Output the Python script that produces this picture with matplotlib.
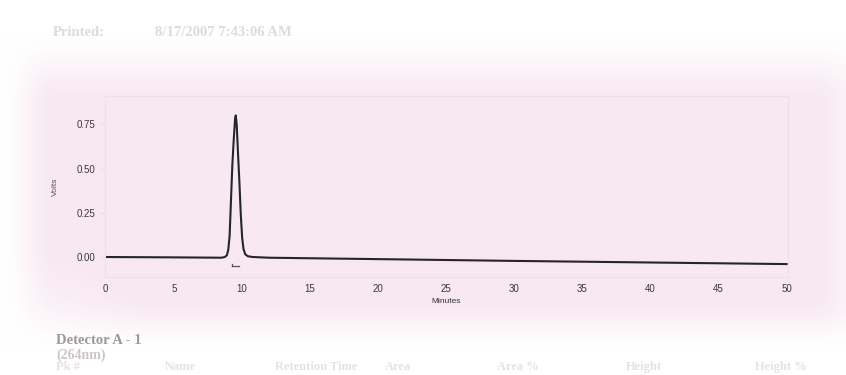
import numpy as np
import matplotlib
matplotlib.use("Agg")
import matplotlib.pyplot as plt

# Detector A - 1 (264 nm) trace
minutes = [0.0, 5.0, 8.5, 8.75, 8.9, 9.0, 9.1, 9.2, 9.3, 9.4, 9.5, 9.55,
           9.62, 9.72, 9.82, 9.92, 10.02, 10.12, 10.25, 10.45, 10.8,
           12.0, 20.0, 30.0, 40.0, 50.0]
volts = [0.0, -0.002, -0.004, 0.0, 0.01, 0.04, 0.12, 0.32, 0.52, 0.66, 0.78, 0.80,
         0.75, 0.58, 0.42, 0.24, 0.11, 0.045, 0.015, 0.004, 0.0,
         -0.004, -0.012, -0.022, -0.031, -0.040]
peak_time = 9.55

x_ticks = [0, 5, 10, 15, 20, 25, 30, 35, 40, 45, 50]
y_ticks = [0.00, 0.25, 0.50, 0.75]
y_tick_labels = ["0.00", "0.25", "0.50", "0.75"]

W, H = 846, 375
fig = plt.figure(figsize=(W / 100, H / 100), dpi=100)


def ramp(v, a, b):
    t = np.clip((v - a) / (b - a), 0, 1)
    return t * t * (3 - 2 * t)


# paper background: pink sheet fading to white at the margins
bg = fig.add_axes([0, 0, 1, 1], zorder=-10)
bg.set_axis_off()
yy, xx = np.mgrid[0:H, 0:W].astype(float)
w = ramp(yy, 30, 105) * (1 - ramp(yy, 295, 352))
w *= ramp(xx, 0, 55) * (1 - 0.35 * ramp(xx, 815, 846))
# whiter lower-left corner
corner = np.sqrt(((xx - 0) / 150) ** 2 + ((yy - 330) / 80) ** 2)
w *= np.clip(0.35 + 0.65 * corner, 0, 1)
pink = np.array([248, 232, 241]) / 255.0
img = np.ones((H, W, 3)) * (1 - w[..., None]) + pink * w[..., None]
bg.imshow(img, extent=[0, W, H, 0], aspect="auto")
bg.set_xlim(0, W)
bg.set_ylim(H, 0)

font = "Liberation Sans"
serif = "Liberation Serif"

# faded header and footer text
fig.text(53 / W, 1 - 32 / H, "Printed:", family=serif, weight="bold", fontsize=10.5,
         color="#e0d9dd", va="center")
fig.text(155 / W, 1 - 32 / H, "8/17/2007 7:43:06 AM", family=serif, weight="bold",
         fontsize=10.5, color="#e0d9dd", va="center")
fig.text(56 / W, 1 - 341 / H, "Detector A - 1", family=serif, weight="bold",
         fontsize=10.5, color="#9e979b", va="center")
fig.text(56 / W, 1 - 355 / H, "(264nm)", family=serif, weight="bold",
         fontsize=10, color="#cbc4c8", va="center")
for xp, s in [(56, "Pk #"), (165, "Name"), (275, "Retention Time"), (385, "Area"),
              (497, "Area %"), (626, "Height"), (755, "Height %")]:
    fig.text(xp / W, 1 - 367 / H, s, family=serif, weight="bold", fontsize=9,
             color="#e6e1e4", va="center")

# plot area
left, right, top, bottom = 105, 788, 96, 277
ax = fig.add_axes([left / W, 1 - bottom / H, (right - left) / W, (bottom - top) / H])
ax.patch.set_alpha(0)
ax.plot(minutes, volts, color="#25252e", lw=1.5, solid_joinstyle="round")
ax.plot([peak_time - 0.25, peak_time + 0.25], [-0.052, -0.052], color="#555", lw=0.9)
ax.plot([peak_time - 0.25, peak_time - 0.25], [-0.052, -0.04], color="#555", lw=0.9)

ax.set_xlim(-0.05, 50.1)
ax.set_ylim(-0.113, 0.91)
ax.set_xticks(x_ticks)
ax.set_xticklabels([str(t) for t in x_ticks], family=font, fontsize=7, color="#3a3a3a")
ax.set_yticks(y_ticks)
ax.set_yticklabels(y_tick_labels, family=font, fontsize=7, color="#3a3a3a")
ax.tick_params(axis="x", length=0, pad=5)
ax.tick_params(axis="y", length=3, width=0.5, color="#d8cfd4", pad=4)
for s in ax.spines.values():
    s.set_color("#ebe1e7")
    s.set_linewidth(0.8)
ax.set_xlabel("Minutes", family=font, fontsize=6, color="#333", labelpad=3)
ax.set_ylabel("Volts", family=font, fontsize=6, color="#555", labelpad=13)

fig.savefig("out.png", dpi=100)
